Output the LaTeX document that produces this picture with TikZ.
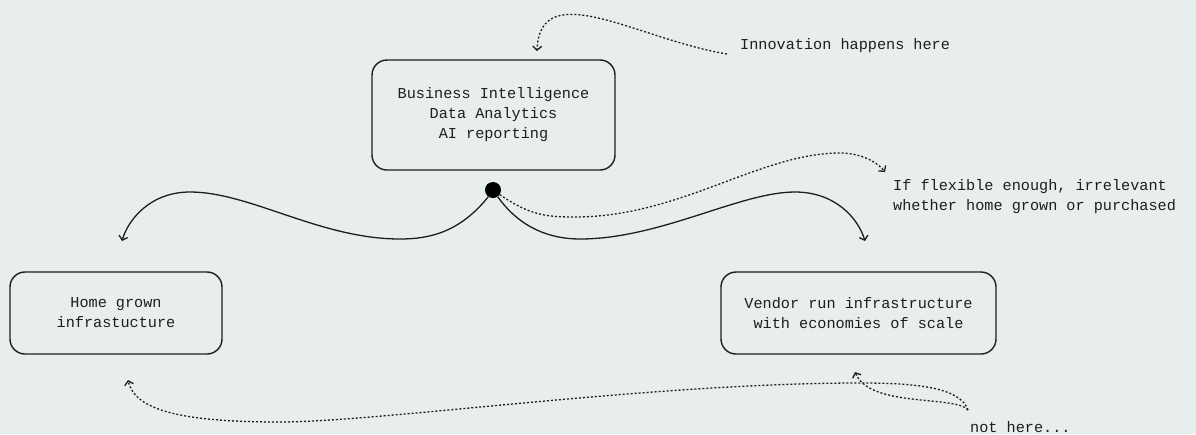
\documentclass[tikz,border=0pt]{standalone}
\usepackage{fontspec}
\setmonofont{Liberation Mono}
\usetikzlibrary{arrows.meta}
\definecolor{bg}{HTML}{E8EEEE}
\definecolor{ink}{HTML}{1E1E1E}
\begin{document}
\begin{tikzpicture}[x=1pt,y=-1pt,
  txt/.style={text=ink, font=\ttfamily\fontsize{15.2}{20}\selectfont},
  box/.style={txt, draw=ink, line width=1.4pt, rounded corners=15pt,
    align=center, inner sep=0pt},
  note/.style={txt, align=left, inner sep=0pt, anchor=west},
  link/.style={draw=ink, line width=1.3pt,
    -{Straight Barb[length=4pt,width=9pt]}},
  hint/.style={link, dash pattern=on 2pt off 2pt}]

% canvas
\fill[bg] (0,0) rectangle (1196,434);
\useasboundingbox (0,0) rectangle (1196,434);

% boxes
\node[box, minimum width=243pt, minimum height=110pt] (bi) at (493.5,115)
  {Business Intelligence\\Data Analytics\\AI reporting};
\node[box, minimum width=212pt, minimum height=82pt] (home) at (116,313)
  {Home grown\\infrastucture};
\node[box, minimum width=275pt, minimum height=82pt] (vendor) at (858.5,313)
  {Vendor run infrastructure\\with economies of scale};

% branching point
\node[circle, fill=black, minimum size=16pt, inner sep=0pt] (hub) at (493,190) {};

% annotations
\node[note] (innov) at (740,46) {Innovation happens here};
\node[note] (flex) at (893,197) {If flexible enough, irrelevant\\whether home grown or purchased};
\node[note] (nothere) at (970,427) {not here...};

% arrow ends
\coordinate (biTop) at (537,51);
\coordinate (homeTop) at (122,241);
\coordinate (vendorTop) at (865,241);
\coordinate (flexTip) at (885,172);
\coordinate (homeLow) at (128,380);
\coordinate (vendorLow) at (855,372);
\coordinate (nhStart) at (968,410);

% solid branches
\draw[link] (hub.235) .. controls (460,232) and (430,239) .. (400,239)
  .. controls (320,239) and (250,192) .. (190,192)
  .. controls (150,192) and (128,220) .. (homeTop);
\draw[link] (hub.305) .. controls (520,228) and (550,239) .. (580,239)
  .. controls (660,239) and (740,192) .. (795,192)
  .. controls (835,192) and (858,218) .. (vendorTop);

% dotted remarks
\draw[hint] ([xshift=-13pt,yshift=-8pt]innov.west)
  .. controls (640,40) and (540,-25) .. (biTop);
\draw[hint] (hub.-35) .. controls (530,215) and (545,217) .. (575,217)
  .. controls (680,217) and (760,153) .. (840,153)
  .. controls (862,153) and (878,163) .. (flexTip);
\draw[hint] (nhStart) .. controls (960,388) and (920,383) .. (860,383)
  .. controls (650,383) and (380,422) .. (280,422)
  .. controls (180,422) and (135,410) .. (homeLow);
\draw[hint] (nhStart) .. controls (955,395) and (870,408) .. (vendorLow);
\end{tikzpicture}
\end{document}
